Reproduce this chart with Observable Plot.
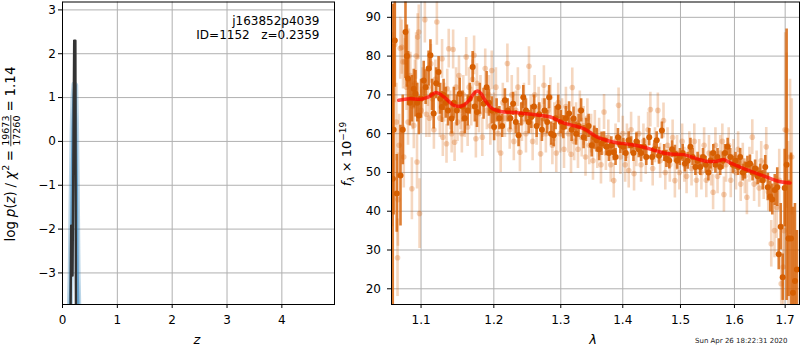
<!DOCTYPE html>
<html><head><meta charset="utf-8">
<script src="https://cdn.jsdelivr.net/npm/d3@7"></script>
<script src="https://cdn.jsdelivr.net/npm/@observablehq/plot@0.6"></script>
<style>
body{margin:0;background:#fff;}
#wrap{position:relative;width:800px;height:350px;overflow:hidden;font-family:"DejaVu Sans",sans-serif;}
#wrap svg{position:absolute;top:0;overflow:visible;}
</style></head><body><div id="wrap"></div>
<script>
// ---------- left panel: redshift probability ----------
const pzTicksX = [0, 1, 2, 3, 4];
const pzTicksY = [-3, -2, -1, 0, 1, 2, 3];
const pzZ    = [0.145, 0.158, 0.183, 0.213, 0.235, 0.246];
const pzLogP = [-4.5, -1.92, -3.06, 2.30, 2.30, -4.5];
const priorZ    = [0.120, 0.150, 0.170, 0.185, 0.200, 0.218, 0.232, 0.245, 0.260, 0.275, 0.300];
const priorLogP = [-4.5, -3.0, -1.0, 0.3, 1.0, 1.3, 1.28, 0.5, -1.0, -3.0, -4.5];
const fieldName = "j163852p4039";
const idText = "ID=1152   z=0.2359";

// ---------- right panel: spectrum ----------
const specTicksX = [1.1, 1.2, 1.3, 1.4, 1.5, 1.6, 1.7];
const specTicksY = [20, 30, 40, 50, 60, 70, 80, 90];

const modelLam  = [1.071,1.085,1.100,1.110,1.120,1.131,1.144,1.156,1.165,1.171,1.177,1.182,1.186,1.192,1.198,1.210,1.234,1.264,1.284,1.305,1.336,1.358,1.385,1.413,1.436,1.459,1.477,1.506,1.530,1.549,1.567,1.580,1.593,1.618,1.644,1.671,1.690,1.710];
const modelFlux = [68.6,69.0,68.9,69.5,70.6,69.4,67.3,67.2,68.6,70.2,71.0,70.3,69.0,67.5,66.4,65.7,65.4,64.8,64.3,62.7,61.3,59.1,57.8,57.2,56.5,55.5,54.8,54.6,53.5,52.85,52.9,53.3,52.4,51.0,49.7,48.4,47.6,47.3];

const binLam = [1.0634,1.0645,1.0660,1.0685,1.0733,1.0762,1.0797,1.0815,1.0830,1.0855,1.0880,1.0905,1.0927,1.0950,1.0970,1.1000,1.1035,1.1060,1.1100,1.1124,1.1145,1.1167,1.1200,1.1233,1.1255,1.1277,1.1300,1.1330,1.1360,1.1410,1.1440,1.1480,1.1520,1.1560,1.1590,1.1630,1.1660,1.1700,1.1730,1.1760,1.1800,1.1854,1.1897,1.1930,1.1970,1.2004,
1.204,1.208,1.212,1.216,1.220,1.224,1.228,1.232,1.236,1.240,1.243,1.247,1.251,1.255,1.259,1.263,1.267,1.271,1.275,1.279,1.282,1.285,1.289,1.292,1.296,1.300,1.304,1.308,1.313,1.317,1.320,1.324,1.328,1.332,1.336,1.340,1.344,1.349,1.353,1.357,1.361,1.365,
1.369,1.373,1.377,1.381,1.385,1.388,1.392,1.396,1.401,1.405,1.410,1.414,1.418,1.423,1.427,1.431,1.436,1.440,1.445,1.450,1.454,1.458,1.462,1.467,1.471,1.475,1.480,1.485,1.490,1.494,1.499,1.504,1.508,1.513,1.518,1.522,1.527,
1.531,1.536,1.541,1.546,1.551,1.555,1.560,1.564,1.568,1.573,1.578,1.582,1.587,1.592,1.597,1.602,1.607,1.611,1.616,1.620,1.625,1.630,1.635,1.640,1.645,1.650,1.655,1.660,1.665,1.670,1.674,1.679,1.684,1.687,1.691,1.695,1.699,1.703,1.707,1.712,1.716,1.720,1.724];
const binFlux = [48.4,61.0,84.0,44.6,49.2,61.0,86.2,80.0,74.2,68.0,69.0,71.6,70.3,68.0,64.7,69.0,73.7,72.0,76.8,80.2,70.0,65.2,73.0,75.9,69.0,66.9,70.0,68.0,66.0,63.9,68.0,66.0,70.3,67.0,64.0,66.0,69.0,77.2,67.0,65.6,69.0,67.7,72.0,68.0,66.0,61.7,
66,64,62,68.6,66,64,67.7,63,59.6,65,69.4,66,63,64.3,67,62,65,61,66,63,69.4,60,59.6,64,66.9,63,61.7,64,65.2,61,63.9,60,62,66,59.1,61,62,57,59,58.3,56,57.4,
58.3,56.6,55,57,55.2,54,59.1,57,56.6,55,58.3,57,55,58,56,55,56.6,54,59.1,54.0,56,58.3,54.3,60.8,55,53.5,53.1,56,54.8,53,54,55,52.3,53,56.6,54,51.4,
53,51.4,54,52,50,53.1,55,52,54,51.4,53,55,56.6,54,52,53,51.4,54,50,50.5,52,52.3,50,51,49,49.7,48,51.4,46.2,43.8,43,45.5,46.2,28.9,36,23,46,52,33,33,19,22,25];
const binErr = [45,22,12,10,13,9,12,8,7,6,6,5,6,5,5,5,5,4.5,4.5,4,4,4,4,4,4,4,4,4,4,4,4,4,4,4,4,4,4,4,4,4,4,4,4,3.5,3.5,3.5,
3,3,3,3,3,3,3,3,3,3,3,3,3,3,3,3,3,3,3,3,3,3,3,3,3,3,3,3,3,3,3,3,3,3,3,3,3,3,3,3,3,3,
2.2,2.2,2.2,2.2,2.2,2.2,2.2,2.2,2.2,2.2,2.2,2.2,2.2,2.2,2.2,2.2,2.2,2.2,2.2,2.2,2.2,2.2,2.2,2.2,2.2,2.2,2.2,2.2,2.2,2.2,2.2,2.2,2.2,2.2,2.2,2.2,2.2,
2.2,2.2,2.2,2.2,2.2,2.2,2.2,2.2,2.2,2.2,2.2,2.2,2.2,2.2,2.2,2.2,2.2,2.2,2.2,2.2,2.2,2.2,2.2,2.2,2.2,2.5,2.5,3,3.5,4,4,4,5,4,6,6,10,35,15,22,22,20,10];

const rawLam = [1.063,1.066,1.068,1.0695,1.070,1.0715,1.073,1.075,1.0765,1.0775,1.079,1.081,1.083,1.084,1.086,1.088,1.089,1.0905,1.092,1.0935,1.0947,1.0955,1.097,1.098,1.100,1.102,1.105,1.107,1.109,1.111,1.113,1.115,1.117,1.119,1.121,1.123,1.125,1.128,1.129,1.131,1.134,1.135,1.137,1.139,1.141,1.143,1.145,1.147,1.149,1.151,1.153,1.155,1.157,1.159,1.161,1.163,1.165,1.168,1.170,1.172,1.1745,1.176,1.179,1.181,1.1836,1.1877,1.190,1.193,1.195,1.197,
1.200,1.203,1.206,1.2099,1.213,1.216,1.2196,1.223,1.226,1.229,1.232,1.235,1.238,1.241,1.244,1.247,1.2515,1.254,1.257,1.260,1.263,1.266,1.269,1.272,1.274,1.277,1.280,1.284,1.287,1.290,1.293,1.296,1.299,1.302,1.305,1.308,1.312,1.316,1.318,1.321,1.324,1.327,1.330,1.333,1.336,1.339,1.342,1.345,1.348,1.351,1.354,1.358,1.361,1.364,
1.369,1.372,1.376,1.380,1.385,1.388,1.393,1.396,1.400,1.404,1.407,1.410,1.414,1.419,1.423,1.427,1.431,1.435,1.439,1.443,1.447,1.451,1.455,1.460,1.464,1.4699,1.473,1.477,1.481,1.486,1.490,1.494,1.498,1.503,1.507,1.511,1.516,1.520,1.525,1.529,1.534,1.538,1.543,1.547,1.552,1.556,1.5597,1.564,1.568,1.573,1.577,1.580,1.584,1.589,1.593,1.598,1.603,1.607,1.612,1.616,1.620,1.624,1.629,1.6345,1.638,1.643,1.648,1.652,1.657,1.662,1.666,1.672,1.6785,1.683,1.688,1.692,1.696,1.698,1.700,1.703,1.706,1.710,1.7135];
const rawFlux = [61,83,63,28,43,57,82,82.3,78.5,54,78.5,72,63,80,75,45.8,67,62.1,73,80,52.7,84.9,86.2,39.4,66,71,89.4,65,72,64,78,69,61,74,88.8,70,64,79.3,59.1,68,57.4,71.6,81.9,66,60,81.7,57.8,72,63,75,66,60,70,64,79.8,61.7,72,67,74,80.2,58.7,73,65.2,70,59.1,76.8,66,70,62,76.3,
65.5,72,60,55,68,64,78.1,61,70,58,66,72,55.2,63,68,60,77.4,65,58,70,62,67,54.8,64,72.5,60,66,69.4,57,63,55,68,60,64,56,67,60,54.7,71.9,58,63,56,66,59,62,54,64,57,60,53,61,56,59,52,
65.6,55,59,52,47.9,58,67.3,54,60,52,58,50.5,61,49.7,56,60,52,58,54,61,66.2,51,57,66,53,63.4,50,57,52,59,47.9,55,50,58,52,49,56,51,58,48,54,50,57,48,55,51,44.9,57,49,55,58,44.3,52,57,48,54,50,56,47,53,49,43.6,52,59.1,47,51,46,53,48,56.6,45,31.6,35,41,48,21.3,25.6,35,61,60.8,33,54,54];
const rawErr = [25,15,10,10,12,8,8,7,7,8,6,6,6,7,6,8,6,6,6,6,7,6,7,9,6,6,6,6,5,5,5,5,5,5,6,5,5,5,5,5,5,5,5,5,5,5,5,5,5,5,5,5,5,5,5,5,5,5,5,5,5,5,5,5,5,5,5,5,5,5,
5,5,5,5,5,5,5,5,5,5,5,5,5,5,5,5,5,5,5,5,5,5,5,5,5,5,5,5,5,5,5,5,5,5,5,5,5,5,5,5,5,5,5,5,5,5,5,5,5,5,5,5,5,5,
4.5,4.5,4.5,4.5,4.5,4.5,4.5,4.5,4.5,4.5,4.5,4.5,4.5,4.5,4.5,4.5,4.5,4.5,4.5,4.5,4.5,4.5,4.5,4.5,4.5,4.5,4.5,4.5,4.5,4.5,4.5,4.5,4.5,4.5,4.5,4.5,4.5,4.5,4.5,4.5,4.5,4.5,4.5,4.5,4.5,4.5,4.5,4.5,4.5,4.5,4.5,4.5,4.5,4.5,4.5,4.5,4.5,4.5,4.5,4.5,4.5,4.5,4.5,4.5,4.5,4.5,5,5,5,5,5,6,7,8,8,8,10,10,25,20,25,20,15];
const stamp = "Sun Apr 26 18:22:31 2020";

// ---------- build tables ----------
const pz = pzZ.map((z, i) => ({z, p: pzLogP[i]}));
const prior = priorZ.map((z, i) => ({z, p: priorLogP[i]}));
const model = modelLam.map((l, i) => ({l, f: modelFlux[i]}));
const bins = binLam.map((l, i) => ({l, f: binFlux[i], e: binErr[i]}));
const raw = rawLam.map((l, i) => ({l, f: rawFlux[i], e: rawErr[i]}));

const FONT = "DejaVu Sans";
const minus = d => d < 0 ? "\u2212" + Math.abs(d) : String(d);
const GRID = "#b0b0b0";
const ORANGE = "#d65f02";

const wrap = document.getElementById("wrap");

const left = Plot.plot({
  width: 340, height: 350,
  marginLeft: 62, marginRight: 6, marginTop: 1.5, marginBottom: 46,
  style: {fontFamily: FONT, fontSize: "12px", color: "black", background: "transparent"},
  x: {domain: [0, 4.96], ticks: pzTicksX, tickFormat: d => String(d), tickSize: 4, tickPadding: 7, label: null},
  y: {domain: [-3.72, 3.18], ticks: pzTicksY, tickFormat: minus, tickSize: 4, tickPadding: 2.5, label: null},
  marks: [
    Plot.ruleX(pzTicksX, {x: d => d, stroke: GRID, strokeWidth: 1}),
    Plot.ruleY(pzTicksY, {y: d => d, stroke: GRID, strokeWidth: 1}),
    Plot.line(prior, {x: "z", y: "p", stroke: "#1f77b4", strokeOpacity: 0.3, strokeWidth: 6, clip: true}),
    Plot.line(prior, {x: "z", y: "p", stroke: "#1f77b4", strokeOpacity: 0.55, strokeWidth: 2.5, clip: true}),
    Plot.line(pz, {x: "z", y: "p", stroke: "#333333", strokeWidth: 2.4, clip: true}),
    Plot.frame({stroke: "black"})
  ]
});
left.style.left = "0px";
wrap.appendChild(left);

const right = Plot.plot({
  width: 460, height: 350,
  marginLeft: 51, marginRight: 1, marginTop: 1.5, marginBottom: 46,
  style: {fontFamily: FONT, fontSize: "12px", color: "black", background: "transparent"},
  x: {type: "log", domain: [1.0618, 1.7294], ticks: specTicksX, tickFormat: d => d.toFixed(1), tickSize: 4, tickPadding: 7, label: null},
  y: {domain: [15.95, 93.95], ticks: specTicksY, tickSize: 4, tickPadding: 6.5, label: null},
  marks: [
    Plot.ruleX(specTicksX, {x: d => d, stroke: GRID, strokeWidth: 1}),
    Plot.ruleY(specTicksY, {y: d => d, stroke: GRID, strokeWidth: 1}),
    Plot.ruleX(raw, {x: "l", y1: d => d.f - d.e, y2: d => d.f + d.e, stroke: ORANGE, strokeOpacity: 0.25, strokeWidth: 2.6, clip: true}),
    Plot.dot(raw, {x: "l", y: "f", r: 2.8, fill: ORANGE, fillOpacity: 0.28, clip: true}),
    Plot.ruleX(bins, {x: "l", y1: d => d.f - d.e, y2: d => d.f + d.e, stroke: ORANGE, strokeOpacity: 0.8, strokeWidth: 2.6, clip: true}),
    Plot.dot(bins, {x: "l", y: "f", r: 3, fill: ORANGE, clip: true}),
    Plot.line(model, {x: "l", y: "f", stroke: "red", strokeOpacity: 0.7, strokeWidth: 3.5, curve: "catmull-rom"}),
    Plot.frame({stroke: "black"})
  ]
});
right.style.left = "340px";
wrap.appendChild(right);

// ---------- text annotations ----------
const L = d3.select(left);
L.append("text").attr("x", 319.5).attr("y", 25).attr("text-anchor", "end")
  .attr("font-family", FONT).attr("font-size", 12).text(fieldName);
L.append("text").attr("x", 319.5).attr("y", 39).attr("text-anchor", "end")
  .attr("font-family", FONT).attr("font-size", 12).style("white-space", "pre").text(idText);
L.append("text").attr("x", 197).attr("y", 344).attr("text-anchor", "middle")
  .attr("font-family", FONT).attr("font-size", 13).attr("font-style", "italic").text("z");

// rotated y label with stacked fraction, laid out piece by piece
(function(){
  const g = L.append("g").attr("font-family", FONT).attr("font-size", 13.5)
    .attr("fill", "black").attr("text-anchor", "start");
  let x = 0;
  const gap = 3.6;
  function put(txt, opt = {}) {
    const t = g.append("text").attr("x", x).attr("y", opt.y || 0).text(txt);
    if (opt.italic) t.attr("font-style", "italic");
    if (opt.size) t.attr("font-size", opt.size);
    x += t.node().getComputedTextLength();
    return t;
  }
  put("log"); x += gap;
  put("p", {italic: true}); put("("); put("z", {italic: true}); put(")"); x += gap;
  put("/"); x += gap;
  put("χ", {italic: true}); x += 0.5; put("2", {size: 9.5, y: -6}); x += gap;
  put("="); x += gap;
  const num = g.append("text").attr("font-size", 9.5).attr("text-anchor", "middle").text("19673");
  const den = g.append("text").attr("font-size", 9.5).attr("text-anchor", "middle").text("17260");
  const W = Math.max(num.node().getComputedTextLength(), den.node().getComputedTextLength()) + 1;
  num.attr("x", x + W / 2).attr("y", -6.2);
  den.attr("x", x + W / 2).attr("y", 5.0);
  g.append("line").attr("x1", x).attr("x2", x + W).attr("y1", -4.2).attr("y2", -4.2).attr("stroke", "black").attr("stroke-width", 0.8);
  x += W + gap;
  put("="); x += gap;
  put("1.14");
  const T = x;
  g.attr("transform", `translate(15,${154 + T / 2}) rotate(-90)`);
})();

const R = d3.select(right);
R.append("text").attr("x", 593 - 340).attr("y", 344).attr("text-anchor", "middle")
  .attr("font-family", FONT).attr("font-size", 13).attr("font-style", "italic").text("λ");
(function(){
  const g = R.append("g").attr("font-family", FONT).attr("font-size", 13).attr("fill", "black");
  const t = g.append("text").style("white-space", "pre").attr("text-anchor", "middle");
  t.append("tspan").attr("font-style", "italic").text("f");
  t.append("tspan").attr("font-style", "italic").attr("font-size", 9).attr("dy", 3).text("λ");
  t.append("tspan").attr("dy", -3).text(" × 10");
  t.append("tspan").attr("font-size", 9).attr("dy", -5).text("\u221219");
  g.attr("transform", `translate(${350.5 - 340},154) rotate(-90)`);
})();
R.append("text").attr("x", 787.5 - 340).attr("y", 343).attr("text-anchor", "end")
  .attr("font-family", FONT).attr("font-size", 7).attr("fill", "#222").text(stamp);
</script>
</body></html>
